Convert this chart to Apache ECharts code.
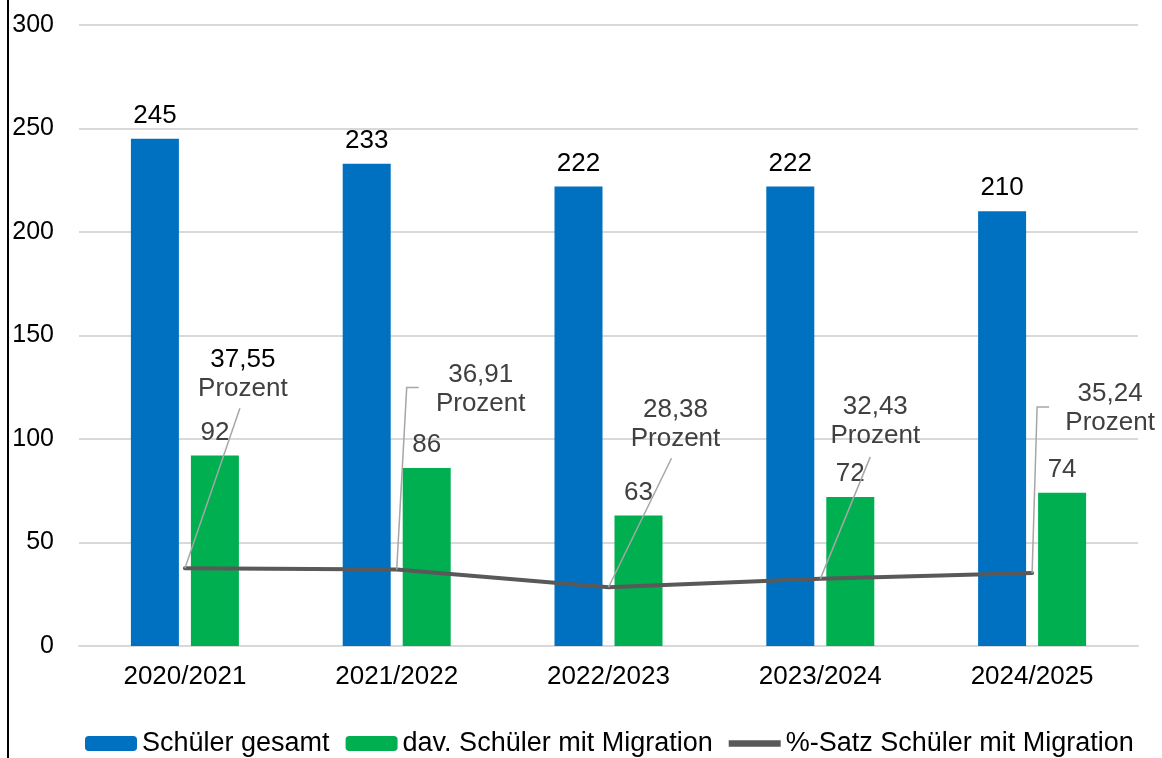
<!DOCTYPE html>
<html><head><meta charset="utf-8">
<script src="https://cdn.jsdelivr.net/npm/echarts@6/dist/echarts.min.js"></script>
<style>html,body{margin:0;padding:0;background:#fff}#c{width:1162px;height:758px}</style>
</head><body><div id="c"></div>
<script>
const categories = ['2020/2021','2021/2022','2022/2023','2023/2024','2024/2025'];
const totalStudents = [245, 233, 222, 222, 210];
const migrationStudents = [92, 86, 63, 72, 74];
const migrationPercent = [37.55, 36.91, 28.38, 32.43, 35.24];
const seriesNames = ['Schüler gesamt', 'dav. Schüler mit Migration', '%-Satz Schüler mit Migration'];
const yTicks = {min: 0, max: 300, interval: 50};

// label placement relative to each point (layout only)
const pctLabelOffset = [[58, -194], [84, -180], [67, -163], [55, -158], [78, -165]];
const pctLeader = [
  [[55, -160]],
  [[10, -182], [22, -182]],
  [[63, -129]],
  [[50, -122]],
  [[5, -166], [17, -166]]
];

const FONT = 'Liberation Sans, Arial, sans-serif';
const chart = echarts.init(document.getElementById('c'));
chart.setOption({
  animation: false,
  textStyle: {fontFamily: FONT},
  graphic: [{type: 'line', shape: {x1: 8, y1: 0, x2: 8, y2: 758}, style: {stroke: '#000', lineWidth: 2}}],
  grid: {left: 79, right: 24, top: 25, bottom: 112},
  legend: {
    top: 730, left: 85, padding: 0, itemWidth: 52, itemHeight: 15, itemGap: 16,
    textStyle: {fontSize: 27, color: '#000', fontFamily: FONT},
    data: [
      {name: seriesNames[0]},
      {name: seriesNames[1]},
      {name: seriesNames[2], icon: 'path://M0,0L40,0L40,5L0,5Z'}
    ]
  },
  xAxis: {
    type: 'category', data: categories,
    axisLine: {lineStyle: {color: '#d9d9d9', width: 2}},
    axisTick: {show: false},
    axisLabel: {fontSize: 26, color: '#000', margin: 18, fontFamily: FONT}
  },
  yAxis: {
    type: 'value', min: yTicks.min, max: yTicks.max, interval: yTicks.interval,
    axisLine: {show: false}, axisTick: {show: false},
    splitLine: {lineStyle: {color: '#d9d9d9', width: 2}},
    axisLabel: {fontSize: 25, color: '#000', margin: 25, fontFamily: FONT}
  },
  series: [
    {
      name: seriesNames[0], type: 'bar', data: totalStudents,
      barWidth: 48, barGap: '25%',
      itemStyle: {color: '#0070C0'},
      label: {show: true, position: 'top', distance: 10, fontSize: 26, color: '#000', fontFamily: FONT}
    },
    {
      name: seriesNames[1], type: 'bar', data: migrationStudents,
      barWidth: 48, barGap: '25%',
      itemStyle: {color: '#00B050'},
      label: {show: true, position: 'top', distance: 10, fontSize: 26, color: '#404040', fontFamily: FONT}
    },
    {
      name: seriesNames[2], type: 'line', data: migrationPercent,
      symbol: 'none',
      lineStyle: {color: '#595959', width: 4, cap: 'round'},
      itemStyle: {color: '#595959'},
      z: 5
    },
    {
      name: 'pctLabels', type: 'custom', coordinateSystem: 'cartesian2d',
      data: migrationPercent.map((v, i) => [i, v]),
      encode: {x: 0, y: 1},
      z: 6, silent: true,
      renderItem: (params, api) => {
        const i = params.dataIndex;
        const p = api.coord([api.value(0), api.value(1)]);
        const pts = [[p[0], p[1]]].concat(pctLeader[i].map(o => [p[0] + o[0], p[1] + o[1]]));
        const txt = (i === 0 ? '{a|' : '{b|') + api.value(1).toFixed(2).replace('.', ',') + '}\n{b|Prozent}';
        return {
          type: 'group',
          children: [
            {type: 'polyline', shape: {points: pts}, style: {stroke: '#a6a6a6', lineWidth: 1.5, fill: null}},
            {type: 'text', x: p[0] + pctLabelOffset[i][0], y: p[1] + pctLabelOffset[i][1],
              style: {
                text: txt, align: 'center', verticalAlign: 'middle',
                rich: {
                  a: {fontSize: 26, lineHeight: 29, fill: '#000', fontFamily: FONT, align: 'center'},
                  b: {fontSize: 26, lineHeight: 29, fill: '#404040', fontFamily: FONT, align: 'center'}
                }
              }}
          ]
        };
      }
    }
  ]
});
</script></body></html>
